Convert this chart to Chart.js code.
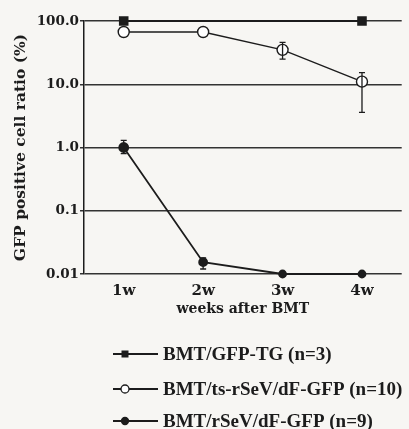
<!DOCTYPE html>
<html><head><meta charset="utf-8">
<script src="https://cdn.jsdelivr.net/npm/chart.js@4"></script>
<style>html,body{margin:0;padding:0;background:#f7f6f3;}#wrap{width:409px;height:429px;}</style>
</head><body><div id="wrap"><canvas id="c" width="409" height="429"></canvas></div>
<script>
const categories = ['1w', '2w', '3w', '4w'];
const tickValues = [0.01, 0.1, 1, 10, 100];
const tickLabels = ['0.01', '0.1', '1.0', '10.0', '100.0'];
const seriesNames = ['BMT/GFP-TG (n=3)', 'BMT/ts-rSeV/dF-GFP (n=10)', 'BMT/rSeV/dF-GFP (n=9)'];
const tgValues = [100, null, null, 100];
const tsValues = [67, 67, 35, 11];
const tsErrLow = [null, null, 25, 3.6];
const tsErrHigh = [null, null, 46, 15.3];
const rsValues = [1.0, 0.0154, 0.01, 0.01];
const rsErrLow = [0.8, 0.012, null, null];
const rsErrHigh = [1.3, 0.018, null, null];

const ink = '#1c1c1c';
const serif = "'DejaVu Serif', 'Liberation Serif', serif";
const times = "'Liberation Serif', 'DejaVu Serif', serif";

const errorBars = {
  id: 'errorBars',
  afterDatasetsDraw(chart) {
    const ctx = chart.ctx, x = chart.scales.x, y = chart.scales.y;
    const sets = [[tsErrLow, tsErrHigh], [rsErrLow, rsErrHigh]];
    ctx.save();
    ctx.strokeStyle = ink; ctx.lineWidth = 1.3;
    sets.forEach(([lo, hi]) => {
      categories.forEach((c, i) => {
        if (lo[i] == null) return;
        const px = x.getPixelForValue(i);
        const y1 = y.getPixelForValue(lo[i]), y2 = y.getPixelForValue(hi[i]);
        ctx.beginPath();
        ctx.moveTo(px, y1); ctx.lineTo(px, y2);
        ctx.moveTo(px - 3, y1); ctx.lineTo(px + 3, y1);
        ctx.moveTo(px - 3, y2); ctx.lineTo(px + 3, y2);
        ctx.stroke();
      });
    });
    ctx.restore();
  }
};

const legendPlugin = {
  id: 'customLegend',
  afterDraw(chart) {
    const ctx = chart.ctx;
    const rows = [354, 389, 421];
    ctx.save();
    chart.data.datasets.forEach((ds, i) => {
      const yy = rows[i];
      ctx.strokeStyle = ink; ctx.lineWidth = 1.8;
      ctx.beginPath(); ctx.moveTo(113, yy); ctx.lineTo(158, yy); ctx.stroke();
      const cx = 125;
      ctx.lineWidth = 1.3;
      if (ds.pointStyle === 'rect') {
        ctx.fillStyle = ink; ctx.fillRect(cx - 3.5, yy - 3.5, 7, 7);
      } else {
        ctx.beginPath(); ctx.arc(cx, yy, i === 1 ? 4 : 3.5, 0, Math.PI * 2);
        ctx.fillStyle = ds.pointBackgroundColor; ctx.fill(); ctx.stroke();
      }
      ctx.fillStyle = ink;
      ctx.font = "bold 19px " + times;
      ctx.textBaseline = 'middle';
      ctx.fillText(ds.label, 163, yy + 1);
    });
    ctx.restore();
  }
};

new Chart(document.getElementById('c'), {
  type: 'line',
  data: {
    labels: categories,
    datasets: [
      { label: seriesNames[0], data: tgValues, spanGaps: true, borderColor: ink, borderWidth: 1.8,
        pointStyle: 'rect', pointRadius: 5.5, pointBackgroundColor: ink, pointBorderColor: ink, clip: false },
      { label: seriesNames[1], data: tsValues, borderColor: ink, borderWidth: 1.4,
        pointStyle: 'circle', pointRadius: 5.5, pointBorderWidth: 1.4, pointBackgroundColor: '#ffffff', pointBorderColor: ink, clip: false },
      { label: seriesNames[2], data: rsValues, borderColor: ink, borderWidth: 1.8,
        pointStyle: 'circle', pointRadius: [4.5, 4, 3.5, 3.5], pointBackgroundColor: ink, pointBorderColor: ink, clip: false }
    ]
  },
  options: {
    responsive: false, animation: false,
    layout: { padding: { top: 21, right: -8, bottom: 105, left: 0 } },
    plugins: { legend: { display: false }, tooltip: { enabled: false } },
    scales: {
      x: {
        offset: true,
        grid: { display: false, drawTicks: false },
        border: { display: false },
        ticks: { color: ink, font: { family: serif, size: 15, weight: 'bold' }, padding: 8 },
        title: { display: true, text: 'weeks after BMT', color: ink, font: { family: serif, size: 14, weight: 'bold' }, padding: { top: 0, bottom: 6 } },
        afterFit(s) { s.height = 50; }
      },
      y: {
        type: 'logarithmic', min: 0.01, max: 100,
        afterBuildTicks(s) { s.ticks = tickValues.map(v => ({ value: v })); },
        ticks: { color: ink, font: { family: serif, size: 13.5, weight: 'bold' }, padding: 1,
          callback(v) { const i = tickValues.indexOf(v); return i >= 0 ? tickLabels[i] : ''; } },
        grid: { color: '#333', lineWidth: 1.5, tickLength: 4 },
        border: { color: ink, width: 1.5 },
        title: { display: true, text: 'GFP positive cell ratio (%)', color: ink, font: { family: serif, size: 15.5, weight: 'bold' }, padding: { top: 12, bottom: 0 } },
        afterFit(s) { s.width = 84; }
      }
    }
  },
  plugins: [errorBars, legendPlugin]
});
</script></body></html>
